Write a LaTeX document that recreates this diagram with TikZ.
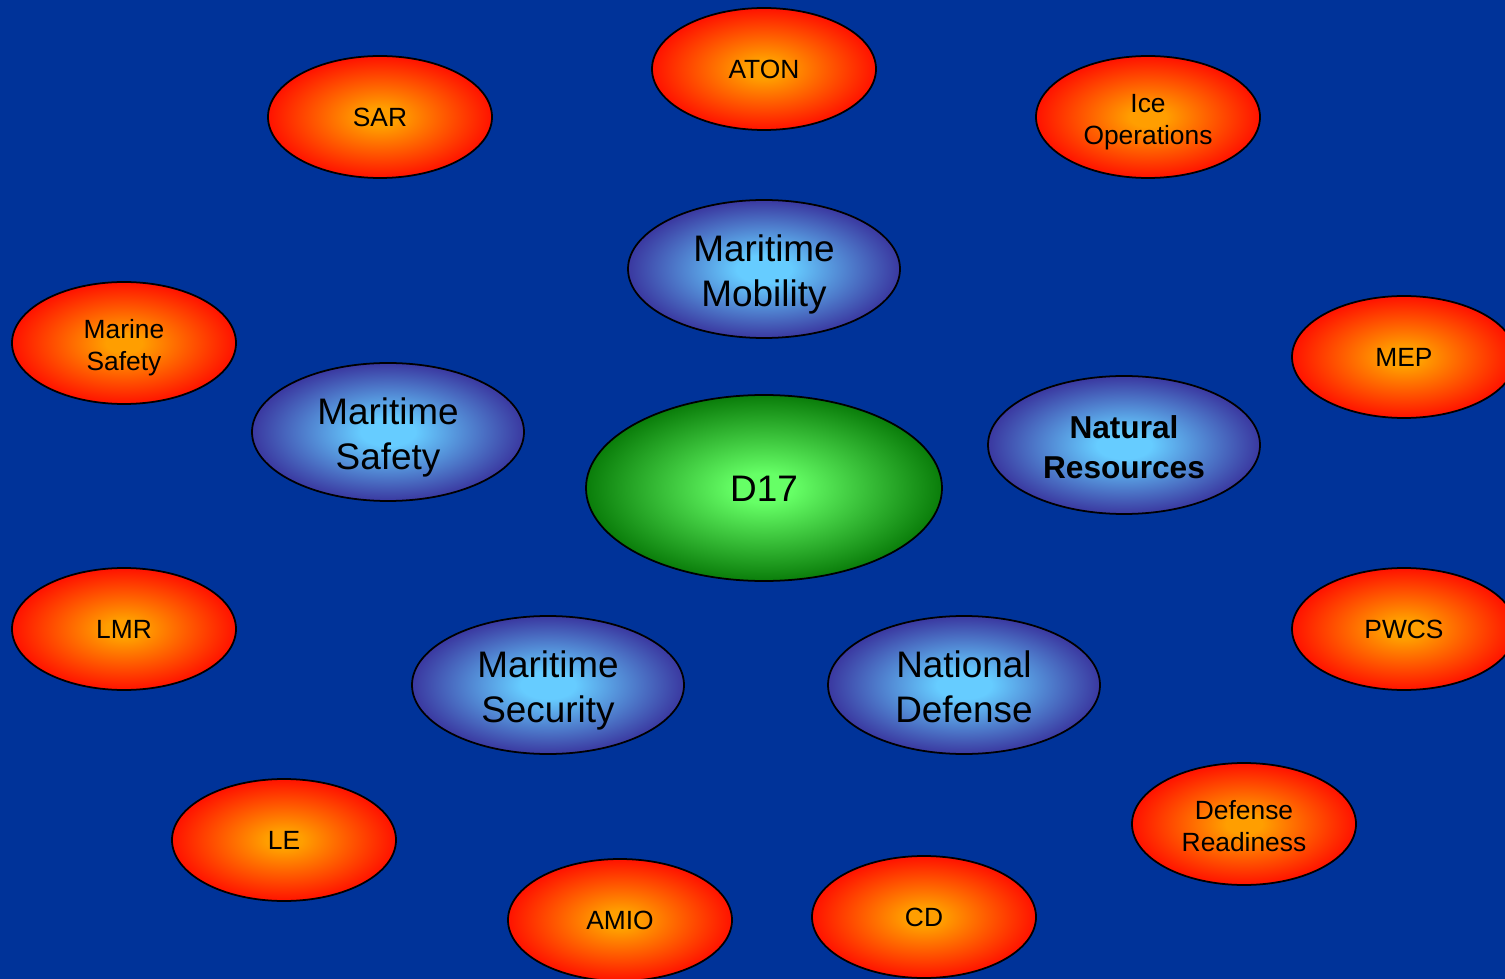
\documentclass[tikz,border=0pt]{standalone}
\usepackage{fontspec}
\setmainfont{Liberation Sans}
\usetikzlibrary{shapes.geometric}

\definecolor{slideblue}{RGB}{0,51,153}
\definecolor{taskcore}{RGB}{255,158,0}
\definecolor{taskrim}{RGB}{255,18,0}
\definecolor{missioncore}{RGB}{102,204,255}
\definecolor{missionrim}{RGB}{58,56,160}
\definecolor{hubcore}{RGB}{102,255,102}
\definecolor{hubrim}{RGB}{10,125,10}

% glow from the middle out to the rim (rim sits at 25bp)
\pgfdeclareradialshading{taskglow}{\pgfpointorigin}{color(0bp)=(taskcore);color(4bp)=(taskcore);color(25bp)=(taskrim);color(50bp)=(taskrim)}
\pgfdeclareradialshading{missionglow}{\pgfpointorigin}{color(0bp)=(missioncore);color(5bp)=(missioncore);color(25bp)=(missionrim);color(50bp)=(missionrim)}
\pgfdeclareradialshading{hubglow}{\pgfpointorigin}{color(0bp)=(hubcore);color(4bp)=(hubcore);color(25bp)=(hubrim);color(50bp)=(hubrim)}

\begin{document}
\begin{tikzpicture}[
    oval/.style={ellipse, draw=black, line width=1pt, inner sep=0pt, align=center, text=black},
    task/.style={oval, minimum width=4.48cm, minimum height=2.44cm, shading=taskglow,
                 font=\fontsize{15}{18.2}\selectfont, text height=14pt, text depth=2.8pt},
    tasktwo/.style={task, text height=34.8pt, text depth=3.3pt},
    mission/.style={oval, minimum width=5.44cm, minimum height=2.76cm, shading=missionglow,
                    font=\fontsize{21}{25.5}\selectfont, text height=47pt, text depth=4.4pt},
    hub/.style={oval, minimum width=7.12cm, minimum height=3.72cm, shading=hubglow,
                font=\fontsize{21}{25}\selectfont, text height=20.3pt, text depth=5.25pt}
]

    % Page frame and the blue slide behind everything
    \useasboundingbox (0,0) rectangle (30.1,-19.58);
    \fill[slideblue] (0,0) rectangle (30.1,-19.58);

    % Outer ring of tasks
    \node[task]    (aton)    at (15.28,-1.38)  {ATON};
    \node[task]    (sar)     at (7.6,-2.34)    {SAR};
    \node[tasktwo] (ice)     at (22.96,-2.34)  {Ice\\Operations};
    \node[tasktwo] (marine)  at (2.48,-6.86)   {Marine\\Safety};
    \node[task]    (mep)     at (28.08,-7.14)  {MEP};
    \node[task]    (lmr)     at (2.48,-12.58)  {LMR};
    \node[task]    (pwcs)    at (28.08,-12.58) {PWCS};
    \node[task]    (le)      at (5.68,-16.8)   {LE};
    \node[task]    (amio)    at (12.4,-18.4)   {AMIO};
    \node[task]    (cd)      at (18.48,-18.34) {CD};
    \node[tasktwo] (readiness) at (24.88,-16.48) {Defense\\Readiness};

    % Inner ring of missions
    \node[mission] (mobility) at (15.28,-5.38) {Maritime\\Mobility};
    \node[mission] (safety)   at (7.76,-8.64)  {Maritime\\Safety};
    \node[mission, font=\fontsize{18}{22.7}\selectfont\bfseries, text height=42pt, text depth=3.9pt] (natural) at (22.48,-8.9) {Natural\\Resources};
    \node[mission] (security) at (10.96,-13.7) {Maritime\\Security};
    \node[mission] (defense)  at (19.28,-13.7) {National\\Defense};

    % District in the middle
    \node[hub] (d17) at (15.28,-9.76) {D17};

\end{tikzpicture}
\end{document}
